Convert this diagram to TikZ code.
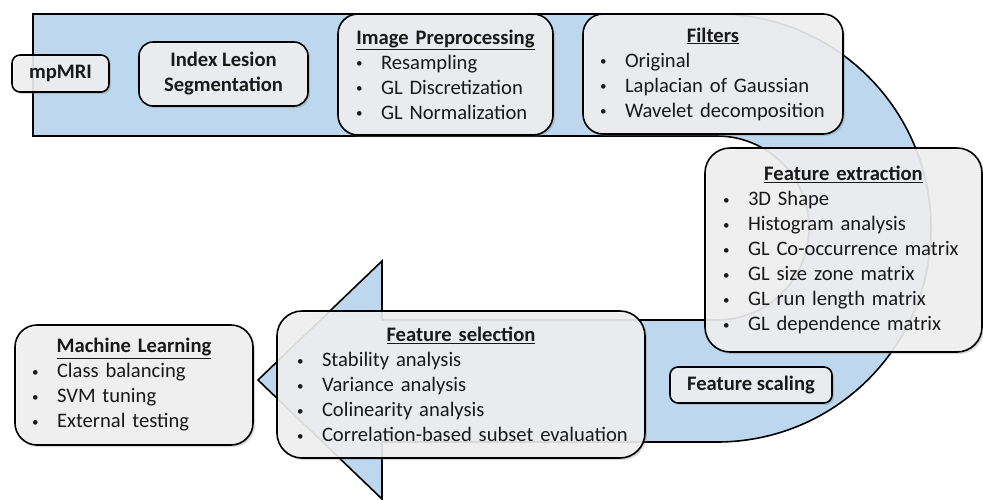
\documentclass[tikz,border=0pt]{standalone}
\usepackage{fontspec}
\setmainfont{Carlito}
\usepackage{tikz}
\usetikzlibrary{shadows}
\definecolor{bandblue}{RGB}{189,215,238}
\definecolor{boxgray}{RGB}{242,242,243}
\definecolor{ink}{RGB}{25,25,25}
\newcommand{\boxtitle}[1]{\makebox[\hsize][c]{\underline{\textbf{#1}}}}
\newcommand{\bitem}[1]{\mbox{\makebox[25pt][l]{\raisebox{1.5pt}{\fontsize{13}{13}\selectfont\textbullet}}#1}}
\tikzset{
    stage/.style = {draw=black, line width=1.6pt, fill=boxgray, fill opacity=0.88, text opacity=1, text=ink,
                    font=\fontsize{20.6}{25}\selectfont, inner xsep=17pt, inner ysep=0pt, rounded corners=#1,
                    drop shadow={opacity=0.3, shadow xshift=2pt, shadow yshift=-2pt}},
    stage/.default = 18pt,
    stage_list/.style = {stage=#1, align=left},
    stage_bold/.style = {stage=#1, align=center, font=\fontsize{20.6}{25}\selectfont\bfseries},
    flow_band/.style = {draw=black, line width=1.6pt, fill=bandblue}
}
\begin{document}
\begin{tikzpicture}[x=1pt, y=-1pt]
    \useasboundingbox (0,0) rectangle (983,499);
    % big U-turn arrow behind the stages
    \draw[flow_band] (33,14) -- (717,14) arc[start angle=-90, end angle=90, radius=214]
        -- (382,442) -- (382,499) -- (258,380) -- (382,261) -- (382,320) -- (717,320)
        arc[start angle=90, end angle=-90, radius=92] -- (33,136) -- cycle;

    \node[stage_bold=8pt, minimum width=95, minimum height=37] (mpmri) at (60.5,73.5) {mpMRI};
    \node[stage_bold=14pt, minimum width=169, minimum height=64] (seg) at (223.5,74) {Index Lesion\\Segmentation};
    \node[stage_list=20pt, minimum width=215, minimum height=121, text width=179pt] (prep) at (445.5,74.5)
        {\boxtitle{Image Preprocessing}\\ \bitem{Resampling}\\ \bitem{GL Discretization}\\ \bitem{GL Normalization}};
    \node[stage_list=20pt, minimum width=260, minimum height=120, text width=226pt] (filt) at (713,74)
        {\boxtitle{Filters}\\ \bitem{Original}\\ \bitem{Laplacian of Gaussian}\\ \bitem{Wavelet decomposition}};
    \node[stage_list=25pt, minimum width=277, minimum height=204, text width=241pt] (extr) at (843.5,250)
        {\boxtitle{Feature extraction}\\ \bitem{3D Shape}\\ \bitem{Histogram analysis}\\ \bitem{GL Co-occurrence matrix}\\
         \bitem{GL size zone matrix}\\ \bitem{GL run length matrix}\\ \bitem{GL dependence matrix}};
    \node[stage_bold=8pt, minimum width=162, minimum height=36] (scal) at (751,385) {Feature scaling};
    \node[stage_list=25pt, minimum width=368, minimum height=147, text width=328pt] (sel) at (461,384.5)
        {\boxtitle{Feature selection}\\ \bitem{Stability analysis}\\ \bitem{Variance analysis}\\ \bitem{Colinearity analysis}\\
         \bitem{Correlation-based subset evaluation}};
    \node[stage_list=22pt, minimum width=238, minimum height=120, text width=204pt] (ml) at (134,385)
        {\boxtitle{Machine Learning}\\ \bitem{Class balancing}\\ \bitem{SVM tuning}\\ \bitem{External testing}};
\end{tikzpicture}
\end{document}
